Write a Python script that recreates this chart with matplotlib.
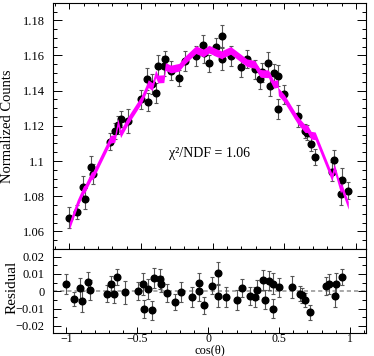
import numpy as np
import matplotlib
matplotlib.use('Agg')
import matplotlib.pyplot as plt
from matplotlib.ticker import MultipleLocator, FuncFormatter

# measured points (cos theta, normalized counts, residual, error)
cos_theta = [-1.0, -0.947, -0.902, -0.893, -0.848, -0.834, -0.714, -0.683, -0.662, -0.643,
             -0.589, -0.497, -0.457, -0.45, -0.422, -0.398, -0.382, -0.341, -0.33, -0.292,
             -0.235, -0.195, -0.117, -0.065, -0.063, -0.026, 0.026, 0.068, 0.068, 0.125,
             0.2, 0.238, 0.295, 0.332, 0.346, 0.389, 0.403, 0.426, 0.454, 0.459,
             0.5, 0.594, 0.645, 0.662, 0.686, 0.716, 0.832, 0.85, 0.893, 0.9, 0.947]
counts = [1.0678, 1.0710, 1.0855, 1.0785, 1.0968, 1.0927, 1.1110, 1.1171, 1.1205, 1.1239,
          1.1229, 1.1350, 1.1466, 1.1337, 1.1437, 1.1386, 1.1542, 1.1539, 1.1579, 1.1514,
          1.1473, 1.1570, 1.1598, 1.1662, 1.1615, 1.1555, 1.1649, 1.1709, 1.1579, 1.1596,
          1.1535, 1.1579, 1.1522, 1.1466, 1.1505, 1.1560, 1.1426, 1.1498, 1.1484, 1.1294,
          1.1379, 1.1257, 1.1171, 1.1160, 1.1097, 1.1023, 1.0940, 1.1006, 1.0812, 1.0895, 1.0831]
residual = [0.0044, -0.0045, 0.0018, -0.0057, 0.0053, 0.0005, -0.0013, 0.0042, -0.0015, 0.0084,
            -0.0005, 0.0, 0.0042, -0.0103, 0.0014, -0.011, 0.0076, 0.0071, 0.0042, -0.0009,
            -0.006, -0.0003, -0.0035, 0.0048, 0.0, -0.0081, 0.0033, 0.0107, -0.0028, -0.0033,
            -0.0048, 0.002, -0.0027, -0.0033, 0.0008, 0.0064, -0.0048, 0.0062, 0.0043, -0.01,
            0.0023, 0.0025, -0.0013, -0.0024, -0.005, -0.012, 0.0031, 0.0044, -0.0028, 0.0042, 0.0083]
errors = [0.0058, 0.0042, 0.006, 0.006, 0.0058, 0.0058, 0.0048, 0.0048, 0.0051, 0.0045,
          0.0067, 0.0053, 0.0065, 0.0051, 0.0058, 0.0056, 0.0059, 0.0058, 0.0048, 0.0053,
          0.0046, 0.0058, 0.0058, 0.0055, 0.0058, 0.0048, 0.0048, 0.0063, 0.0063, 0.0058,
          0.0058, 0.0051, 0.0053, 0.0056, 0.0055, 0.0058, 0.0056, 0.0056, 0.006, 0.0056,
          0.0056, 0.0063, 0.0041, 0.0043, 0.0038, 0.0043, 0.0053, 0.0058, 0.0063, 0.0063, 0.0048]
chi2_text = '\u03c7\u00b2/NDF = 1.06'

x = np.array(cos_theta)
y = np.array(counts)
res = np.array(residual)
err = np.array(errors)
fit = y - res  # fit value at each bin

plt.rcParams['font.family'] = ['Liberation Serif', 'DejaVu Serif']

fig = plt.figure(figsize=(3.74, 3.56), dpi=100)
ax = fig.add_axes([0.1417, 0.3006, 0.837, 0.6918])
axr = fig.add_axes([0.1417, 0.0654, 0.837, 0.2351])

fmt = FuncFormatter(lambda v, p: ('%g' % round(v, 4)).replace('-', '\u2212'))

# top panel
ax.errorbar(x, y, yerr=err, fmt='o', color='black', ms=4.8, ecolor='#555555',
            elinewidth=0.8, capsize=1.5, capthick=0.8, zorder=2)
ax.fill_between(x, fit - 0.0022, fit + 0.0022, color='#ff00ff', lw=0, zorder=3)
ax.text(-0.025, 1.104, chi2_text, ha='center', va='center', fontsize=10)
ax.set_xlim(-1.115, 1.071)
ax.set_ylim(1.05, 1.19)
ax.xaxis.set_major_locator(MultipleLocator(0.5))
ax.xaxis.set_minor_locator(MultipleLocator(0.1))
ax.yaxis.set_major_locator(MultipleLocator(0.02))
ax.yaxis.set_minor_locator(MultipleLocator(0.005))
ax.yaxis.set_major_formatter(fmt)
ax.tick_params(axis='x', which='both', direction='in', top=True, bottom=True, labelbottom=False)
ax.tick_params(axis='y', which='both', direction='in', left=True, right=True, labelsize=9, pad=6)
ax.tick_params(axis='x', which='major', length=4, width=0.7)
ax.tick_params(axis='x', which='minor', length=2.3, width=0.7)
ax.tick_params(axis='y', which='major', length=6.5, width=0.7)
ax.tick_params(axis='y', which='minor', length=3.2, width=0.7)

# residual panel
axr.axhline(0, color='#999999', lw=1.2, ls=(0, (2.5, 1.8)), zorder=1)
axr.errorbar(x, res, yerr=err, fmt='o', color='black', ms=4.8, ecolor='#555555',
             elinewidth=0.8, capsize=1.5, capthick=0.8, zorder=2)
axr.set_xlim(-1.094, 1.113)
axr.set_ylim(-0.0239, 0.0244)
axr.xaxis.set_major_locator(MultipleLocator(0.5))
axr.xaxis.set_minor_locator(MultipleLocator(0.1))
axr.yaxis.set_major_locator(MultipleLocator(0.01))
axr.yaxis.set_minor_locator(MultipleLocator(0.005))
axr.xaxis.set_major_formatter(fmt)
axr.yaxis.set_major_formatter(fmt)
axr.tick_params(axis='x', which='both', direction='in', top=False, bottom=True, labelsize=8.5, pad=0)
axr.tick_params(axis='y', which='both', direction='in', left=True, right=True, labelsize=9, pad=6)
axr.tick_params(axis='x', which='major', length=4, width=0.7)
axr.tick_params(axis='x', which='minor', length=2.2, width=0.7)
axr.tick_params(axis='y', which='major', length=6, width=0.7)
axr.tick_params(axis='y', which='minor', length=3, width=0.7)

for a in (ax, axr):
    for s in a.spines.values():
        s.set_linewidth(0.8)

fig.text(0.019, 0.644, 'Normalized Counts', rotation=90, ha='center', va='center', fontsize=10.5)
fig.text(0.033, 0.192, 'Residual', rotation=90, ha='center', va='center', fontsize=11)
fig.text(0.56, 0.0, 'cos(\u03b8)', ha='center', va='bottom', fontsize=9)

fig.savefig('out.png', dpi=100)
